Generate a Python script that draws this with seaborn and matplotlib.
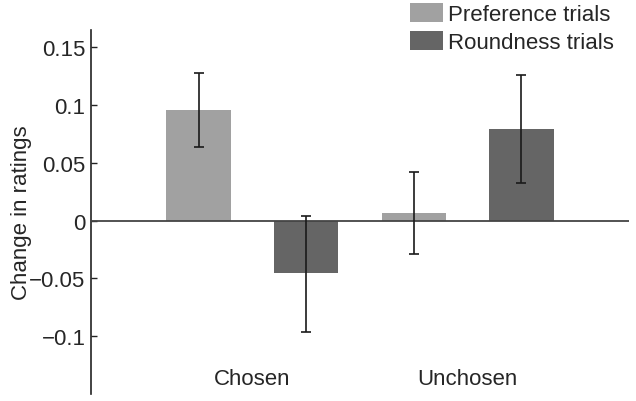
import numpy as np
import pandas as pd
import matplotlib
matplotlib.use('Agg')
import matplotlib.pyplot as plt
import seaborn as sns

# Values
conditions = ['Chosen', 'Chosen', 'Unchosen', 'Unchosen']
trial_types = ['Preference trials', 'Roundness trials', 'Preference trials', 'Roundness trials']
change = [0.0955, -0.0455, 0.0064, 0.0792]
err_low = [0.0641, -0.0962, -0.0289, 0.0327]
err_high = [0.1275, 0.0038, 0.0425, 0.1262]

df = pd.DataFrame({
    'Condition': conditions,
    'Trial': trial_types,
    'Change': change,
    'Low': err_low,
    'High': err_high,
})

sns.set_style('white')
plt.rcParams['font.family'] = ['Liberation Sans', 'DejaVu Sans']

fig = plt.figure(figsize=(6.36, 4.02), dpi=100)
ax = fig.add_axes([0.1431, 0.0174, 0.989 - 0.1431, 0.9229 - 0.0174])

palette = {'Preference trials': '#a1a1a1', 'Roundness trials': '#656565'}
sns.barplot(data=df, x='Condition', y='Change', hue='Trial', palette=palette,
            width=1.0, gap=0.4, errorbar=None, linewidth=0, saturation=1, ax=ax)

# error bars at the centres of the drawn bars
for trial, container in zip(['Preference trials', 'Roundness trials'], ax.containers):
    sub = df[df['Trial'] == trial]
    xs = [p.get_x() + p.get_width() / 2 for p in container.patches]
    ys = sub['Change'].values
    yerr = np.vstack([ys - sub['Low'].values, sub['High'].values - ys])
    ax.errorbar(xs, ys, yerr=yerr, fmt='none', ecolor='#1a1a1a', elinewidth=1.2,
                capsize=3.5, capthick=1.2, zorder=4)

ax.axhline(0, color='#444444', lw=1.3, zorder=3)

ax.set_xlim(-0.75, 1.75)
ax.set_ylim(-0.15, 0.165)
ax.set_yticks([-0.1, -0.05, 0, 0.05, 0.1, 0.15])
ax.set_yticklabels(['\u22120.1', '\u22120.05', '0', '0.05', '0.1', '0.15'])
ax.tick_params(axis='y', direction='in', length=4, width=1, color='#222222',
               labelsize=16, pad=4, left=True)
ax.tick_params(axis='x', length=0, labelsize=16, pad=-19)
ax.set_xlabel('')
ax.set_ylabel('Change in ratings', fontsize=16, labelpad=-2)

for s in ['top', 'right', 'bottom']:
    ax.spines[s].set_visible(False)
ax.spines['left'].set_color('#222222')
ax.spines['left'].set_linewidth(1.2)

handles, labels = ax.get_legend_handles_labels()
ax.legend(handles, labels, loc='upper left', bbox_to_anchor=(410 / 636, 1 - 4 / 402),
          bbox_transform=fig.transFigure, frameon=False, fontsize=16,
          handlelength=1.5, handleheight=0.95, handletextpad=0.2,
          labelspacing=0.25, borderpad=0, borderaxespad=0)

fig.savefig('out.png', dpi=100)
